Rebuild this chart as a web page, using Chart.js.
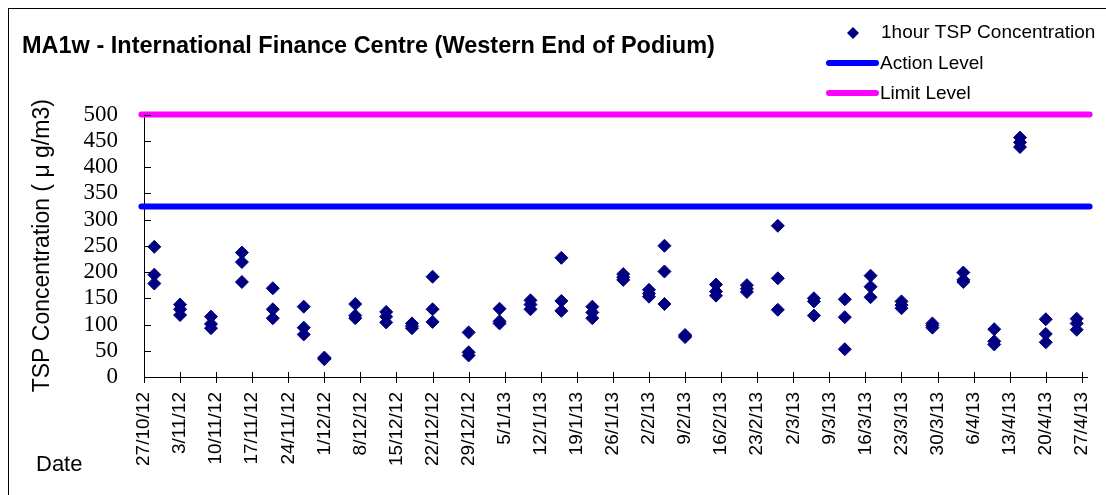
<!DOCTYPE html>
<html>
<head>
<meta charset="utf-8">
<title>MA1w - TSP Concentration</title>
<script src="https://cdn.jsdelivr.net/npm/chart.js@4.4.1/dist/chart.umd.min.js"></script>
<style>
  html, body { margin: 0; padding: 0; background: #fff; }
  .wrap { position: relative; width: 1106px; height: 495px; overflow: hidden; }
  .frame { position: absolute; left: 8px; top: 8px; width: 1200px; height: 600px; border-left: 1px solid #000; border-top: 1px solid #000; }
  canvas { position: absolute; left: 0; top: 0; }
</style>
</head>
<body>
<div class="wrap">
  <div class="frame"></div>
  <canvas id="tspChart" width="1106" height="495"></canvas>
</div>
<script>
// Chart data
const startDate = '27/10/12';
const tickLabels = ['27/10/12','3/11/12','10/11/12','17/11/12','24/11/12','1/12/12','8/12/12','15/12/12','22/12/12','29/12/12',
  '5/1/13','12/1/13','19/1/13','26/1/13','2/2/13','9/2/13','16/2/13','23/2/13','2/3/13','9/3/13','16/3/13','23/3/13',
  '30/3/13','6/4/13','13/4/13','20/4/13','27/4/13'];
const sampleDates = ['29/10/12','3/11/12','9/11/12','15/11/12','21/11/12','27/11/12','1/12/12','7/12/12','13/12/12','18/12/12',
  '22/12/12','29/12/12','4/1/13','10/1/13','16/1/13','22/1/13','28/1/13','2/2/13','5/2/13','9/2/13','15/2/13','21/2/13',
  '27/2/13','6/3/13','12/3/13','17/3/13','23/3/13','29/3/13','4/4/13','10/4/13','15/4/13','20/4/13','26/4/13'];
const reading1 = [248,138,115,237,169,134,37,139,124,102,191,85,130,146,227,134,196,166,250,80,176,175,288,150,148,193,144,102,199,91,456,110,111];
const reading2 = [195,129,101,219,129,94,35,117,115,97,129,47,106,138,145,123,190,159,201,78,163,168,188,144,114,172,137,98,185,68,447,82,102];
const reading3 = [178,118,93,181,112,81,34,112,104,93,105,41,102,129,126,112,185,153,139,76,155,162,128,117,53,152,131,94,181,62,438,66,90];
const actionLevel = 325;
const limitLevel = 500;

// days since the first axis date
function dayIndex(str) {
  const [d, m, y] = str.split('/').map(Number);
  const [d0, m0, y0] = startDate.split('/').map(Number);
  return Math.round((Date.UTC(2000 + y, m - 1, d) - Date.UTC(2000 + y0, m0 - 1, d0)) / 86400000);
}

const lastDay = dayIndex(tickLabels[tickLabels.length - 1]);

const tspPoints = [];
sampleDates.forEach((s, i) => {
  const x = dayIndex(s);
  [reading1[i], reading2[i], reading3[i]].forEach(v => tspPoints.push({ x, y: v }));
});

const levelLine = (v) => [{ x: -0.5, y: v }, { x: lastDay + 1.5, y: v }];

// Axis ticks, legend and "Date" caption
const decorPlugin = {
  id: 'decor',
  afterDraw(chart) {
    const { ctx, chartArea, scales: { x, y } } = chart;
    ctx.save();
    ctx.strokeStyle = '#000';
    ctx.lineWidth = 1;
    ctx.beginPath();
    x.ticks.forEach(t => {
      const px = Math.round(x.getPixelForValue(t.value)) + 0.5;
      ctx.moveTo(px, chartArea.bottom - 5);
      ctx.lineTo(px, chartArea.bottom + 6);
    });
    y.ticks.forEach(t => {
      const py = Math.round(y.getPixelForValue(t.value)) + 0.5;
      ctx.moveTo(chartArea.left, py);
      ctx.lineTo(chartArea.left + 7, py);
    });
    ctx.stroke();

    // legend
    const ds = chart.data.datasets;
    ctx.font = '19px "Liberation Sans", Arial, sans-serif';
    ctx.textBaseline = 'middle';
    ctx.textAlign = 'left';
    ctx.fillStyle = ds[0].backgroundColor;
    ctx.beginPath();
    ctx.moveTo(853, 27); ctx.lineTo(859, 33); ctx.lineTo(853, 39); ctx.lineTo(847, 33);
    ctx.closePath();
    ctx.fill();
    ctx.fillStyle = '#000';
    ctx.fillText(ds[0].label, 881, 33);
    [ds[1], ds[2]].forEach((d, i) => {
      const ly = 63 + i * 30;
      ctx.strokeStyle = d.borderColor;
      ctx.lineWidth = 6;
      ctx.lineCap = 'round';
      ctx.beginPath();
      ctx.moveTo(829, ly);
      ctx.lineTo(876, ly);
      ctx.stroke();
      ctx.fillStyle = '#000';
      ctx.fillText(d.label, 880, ly + 1);
    });

    ctx.font = '22px "Liberation Sans", Arial, sans-serif';
    ctx.fillText('Date', 36, 465);
    ctx.restore();
  }
};

new Chart(document.getElementById('tspChart'), {
  type: 'scatter',
  data: {
    datasets: [
      { label: '1hour TSP Concentration', data: tspPoints, pointStyle: 'rectRot', pointRadius: 6.5, pointHoverRadius: 6.5,
        backgroundColor: '#000080', borderColor: '#000080', borderWidth: 1, order: 0 },
      { label: 'Action Level', data: levelLine(actionLevel), showLine: true, borderColor: '#0000ff', backgroundColor: '#0000ff',
        borderWidth: 6, borderCapStyle: 'round', pointRadius: 0, clip: false, order: 1 },
      { label: 'Limit Level', data: levelLine(limitLevel), showLine: true, borderColor: '#ff00ff', backgroundColor: '#ff00ff',
        borderWidth: 6, borderCapStyle: 'round', pointRadius: 0, clip: false, order: 2 }
    ]
  },
  options: {
    responsive: false,
    animation: false,
    events: [],
    layout: { padding: { left: 22, right: 19, top: 0, bottom: 0 } },
    plugins: {
      legend: { display: false },
      tooltip: { enabled: false },
      title: {
        display: true,
        text: 'MA1w - International Finance Centre (Western End of Podium)',
        align: 'start',
        color: '#000',
        font: { family: '"Liberation Sans", Arial, sans-serif', size: 23.5, weight: 'bold', lineHeight: 1 },
        padding: { top: 35, bottom: 56 }
      }
    },
    scales: {
      x: {
        type: 'linear',
        min: 0,
        max: lastDay + 1,
        afterBuildTicks: (scale) => { scale.ticks = tickLabels.map(l => ({ value: dayIndex(l) })); },
        afterFit: (scale) => { scale.height = 118; scale.paddingLeft = 0; scale.paddingRight = 0; },
        grid: { display: false, drawTicks: false, tickLength: 0 },
        border: { display: true, color: '#000', width: 1 },
        ticks: {
          autoSkip: false,
          minRotation: 90,
          maxRotation: 90,
          padding: 15,
          color: '#000',
          font: { family: '"Liberation Sans", Arial, sans-serif', size: 19, lineHeight: 1 },
          callback: (v, i) => tickLabels[i]
        }
      },
      y: {
        min: 0,
        max: 500,
        afterFit: (scale) => { scale.width = 122; scale.paddingTop = 0; scale.paddingBottom = 0; },
        grid: { display: false, drawTicks: false, tickLength: 0 },
        border: { display: true, color: '#000', width: 1 },
        ticks: {
          stepSize: 50,
          autoSkip: false,
          padding: 26,
          color: '#000',
          font: { family: '"Liberation Serif", "Times New Roman", serif', size: 23, lineHeight: 1 }
        },
        title: {
          display: true,
          text: 'TSP Concentration ( μ g/m3)',
          color: '#000',
          font: { family: '"Liberation Sans", Arial, sans-serif', size: 23, lineHeight: 1.2 },
          padding: { top: 7, bottom: 0 }
        }
      }
    }
  },
  plugins: [decorPlugin]
});
</script>
</body>
</html>
